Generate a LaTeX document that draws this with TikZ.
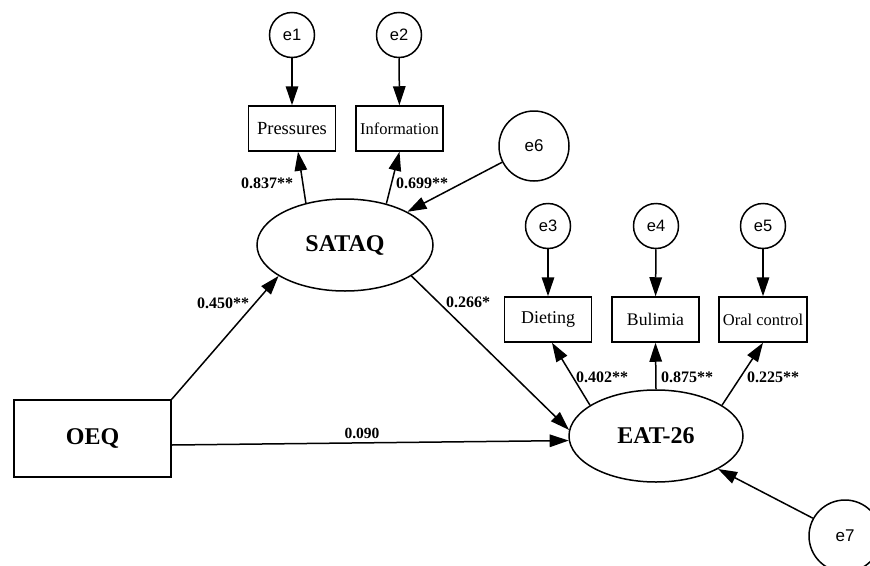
\documentclass[tikz,border=0pt]{standalone}
\usepackage{fontspec}
\setmainfont{Liberation Serif}
\newfontfamily\arialfont{Liberation Sans}
\usetikzlibrary{shapes.geometric,arrows.meta}
\tikzset{
  ln/.style={line width=1.5pt,-{Triangle[length=19pt,width=12.5pt]}},
  errc/.style={circle,draw,line width=1.5pt,inner sep=0pt,minimum size=45pt,font=\arialfont\fontsize{16.5}{18}\selectfont},
  errbig/.style={circle,draw,line width=1.5pt,inner sep=0pt,font=\arialfont\fontsize{17}{19}\selectfont},
  obs/.style={rectangle,draw,line width=1.5pt,inner sep=0pt,minimum width=87pt,minimum height=45pt},
  lat/.style={ellipse,draw,line width=1.5pt,inner sep=0pt,font=\bfseries\fontsize{24}{26}\selectfont},
  coef/.style={font=\bfseries\fontsize{16}{18}\selectfont,inner sep=0pt}
}
\begin{document}
\begin{tikzpicture}[x=1pt,y=-1pt]
\path[use as bounding box,clip] (0,0) rectangle (870,565);
\fill[white] (0,0) rectangle (870,565);
% nodes
\node[errc] (e1) at (292,35) {e1};
\node[errc] (e2) at (399,35) {e2};
\node[obs,font=\fontsize{18.5}{20}\selectfont] (pres) at (292,128.5) {Pressures};
\node[obs,font=\fontsize{16.5}{18}\selectfont] (info) at (399.5,128.5) {Information};
\node[errbig,minimum size=70pt] (e6) at (534,146) {e6};
\node[lat,minimum width=176pt,minimum height=92pt] (sataq) at (345,245) {SATAQ};
\node[errc] (e3) at (548,226) {e3};
\node[errc] (e4) at (656,226) {e4};
\node[errc] (e5) at (763,226) {e5};
\node[obs,font=\fontsize{18}{20}\selectfont] (diet) at (548,319.5) {Dieting};
\node[obs,font=\fontsize{17.7}{20}\selectfont] (bul) at (655.5,319.5) {Bulimia};
\node[obs,minimum width=88pt,font=\fontsize{16.5}{18}\selectfont] (oral) at (763,319.5) {Oral control};
\node[rectangle,draw,line width=1.5pt,inner sep=0pt,minimum width=157pt,minimum height=77pt,font=\bfseries\fontsize{24}{26}\selectfont] (oeq) at (92.5,438.5) {OEQ};
\node[lat,minimum width=174pt,minimum height=92pt] (eat) at (656,436) {EAT-26};
\node[errbig,minimum size=72pt] (e7) at (845,536) {e7};
% connectors
\draw[ln] (e1) -- (pres);
\draw[ln] (e2) -- (info);
\draw[ln] (sataq.133) -- ([xshift=6pt]pres.south);
\draw[ln] (sataq.45) -- (info.south);
\draw[ln] (e6.207) -- (sataq.28);
\draw[ln] (oeq.north east) -- (sataq.205);
\draw[ln] (sataq.335) -- (eat.176);
\draw[ln] ([yshift=-6.5pt]oeq.east) -- (eat.183);
\draw[ln] (e3) -- (diet);
\draw[ln] (e4) -- (bul);
\draw[ln] (e5) -- (oral);
\draw[ln] (eat.155) -- ([xshift=4pt]diet.south);
\draw[ln] (eat.north) -- (bul.south);
\draw[ln] (eat.25) -- (oral.south);
\draw[ln] (e7.151) -- (eat.332);
% coefficients
\node[coef] (c1) at (267,183) {0.837**};
\node[coef] (c2) at (422,183) {0.699**};
\node[coef] (c3) at (223,303) {0.450**};
\node[coef] (c4) at (468,302) {0.266*};
\node[coef,font=\bfseries\fontsize{15.5}{17}\selectfont] (c5) at (362,433) {0.090};
\node[coef] (c6) at (602,377) {0.402**};
\node[coef] (c7) at (687,377) {0.875**};
\node[coef] (c8) at (773,377) {0.225**};
\end{tikzpicture}
\end{document}
